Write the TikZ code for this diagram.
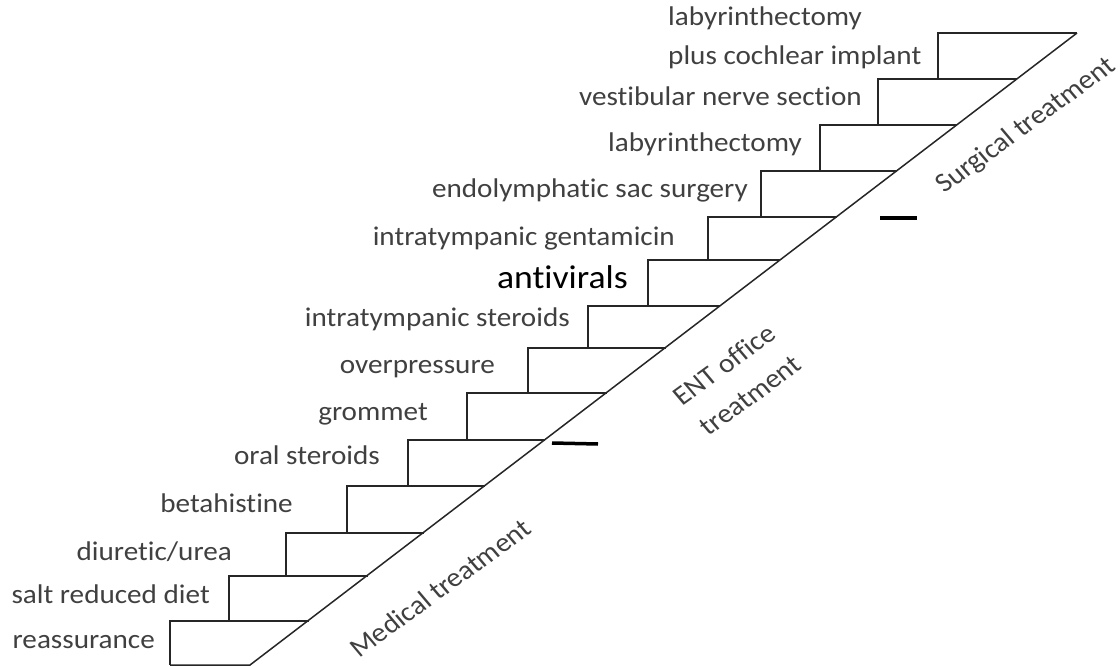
\documentclass[tikz,border=0pt]{standalone}
\usepackage{fontspec}
\setmainfont{Carlito}[Ligatures=NoCommon]
\definecolor{labelgray}{HTML}{404040}
\tikzset{
  lbl/.style={text=labelgray, inner sep=0pt, xscale=1.08, font=\fontsize{27}{39}\selectfont},
  side/.style={lbl, rotate=38, align=center},
  stair/.style={draw=black!85, line width=1.5pt},
  split/.style={draw=black, line width=3.5pt}
}
\begin{document}
\begin{tikzpicture}[x=1pt, y=-1pt]
  \useasboundingbox (0,0) rectangle (1120,666);
  % Stairs
  \foreach \x/\y/\yb/\xd in {170/621/665/308.8, 229/576/621/367.6, 286/533/576/423.8,
      347/486/533/485.2, 408/440/486/545.3, 467/393/440/606.7, 528/348/393/665.5,
      588/306/348/720.3, 648/260/306/780.4, 708/217/260/836.6, 761/171/217/896.7,
      820/125/171/956.8, 878/79/125/1016.9, 938/33/79/1077}
    \draw[stair] (\x,\yb) -- (\x,\y) -- (\xd,\y);
  \draw[stair] (170,665) -- (250,665) -- (1077,33);
  % Splits
  \draw[split] (552,443) -- (598,444);
  \draw[split] (880,218) -- (917,218);
  % Nodes
  \node (reassure) [lbl, anchor=base east] at (155,648) {reassurance};
  \node (salt) [lbl, anchor=base east] at (210,603) {salt reduced diet};
  \node (diuretic) [lbl, anchor=base east] at (232,560) {diuretic/urea};
  \node (betahist) [lbl, anchor=base east] at (293,512) {betahistine};
  \node (oralster) [lbl, anchor=base east] at (380,464) {oral steroids};
  \node (grommet) [lbl, anchor=base east] at (428,420) {grommet};
  \node (overpress) [lbl, anchor=base east] at (495,373) {overpressure};
  \node (itster) [lbl, anchor=base east] at (570,326) {intratympanic steroids};
  \node (antiviral) [lbl, anchor=base east, text=black, font=\fontsize{33}{39}\selectfont] at (628,288) {antivirals};
  \node (itgenta) [lbl, anchor=base east] at (675,245) {intratympanic gentamicin};
  \node (endosac) [lbl, anchor=base east] at (748,197) {endolymphatic sac surgery};
  \node (labyr) [lbl, anchor=base east] at (802,152) {labyrinthectomy};
  \node (vestib) [lbl, anchor=base east] at (862,106) {vestibular nerve section};
  \node (labyrci) [lbl, anchor=base west, align=left] at (668,65) {labyrinthectomy\\plus cochlear implant};
  % Sides
  \node (medical) [side] at (440,588) {Medical treatment};
  \node (ent) [side] at (737,380) {ENT office\\treatment};
  \node (surgical) [side] at (1026,126) {Surgical treatment};
\end{tikzpicture}
\end{document}
